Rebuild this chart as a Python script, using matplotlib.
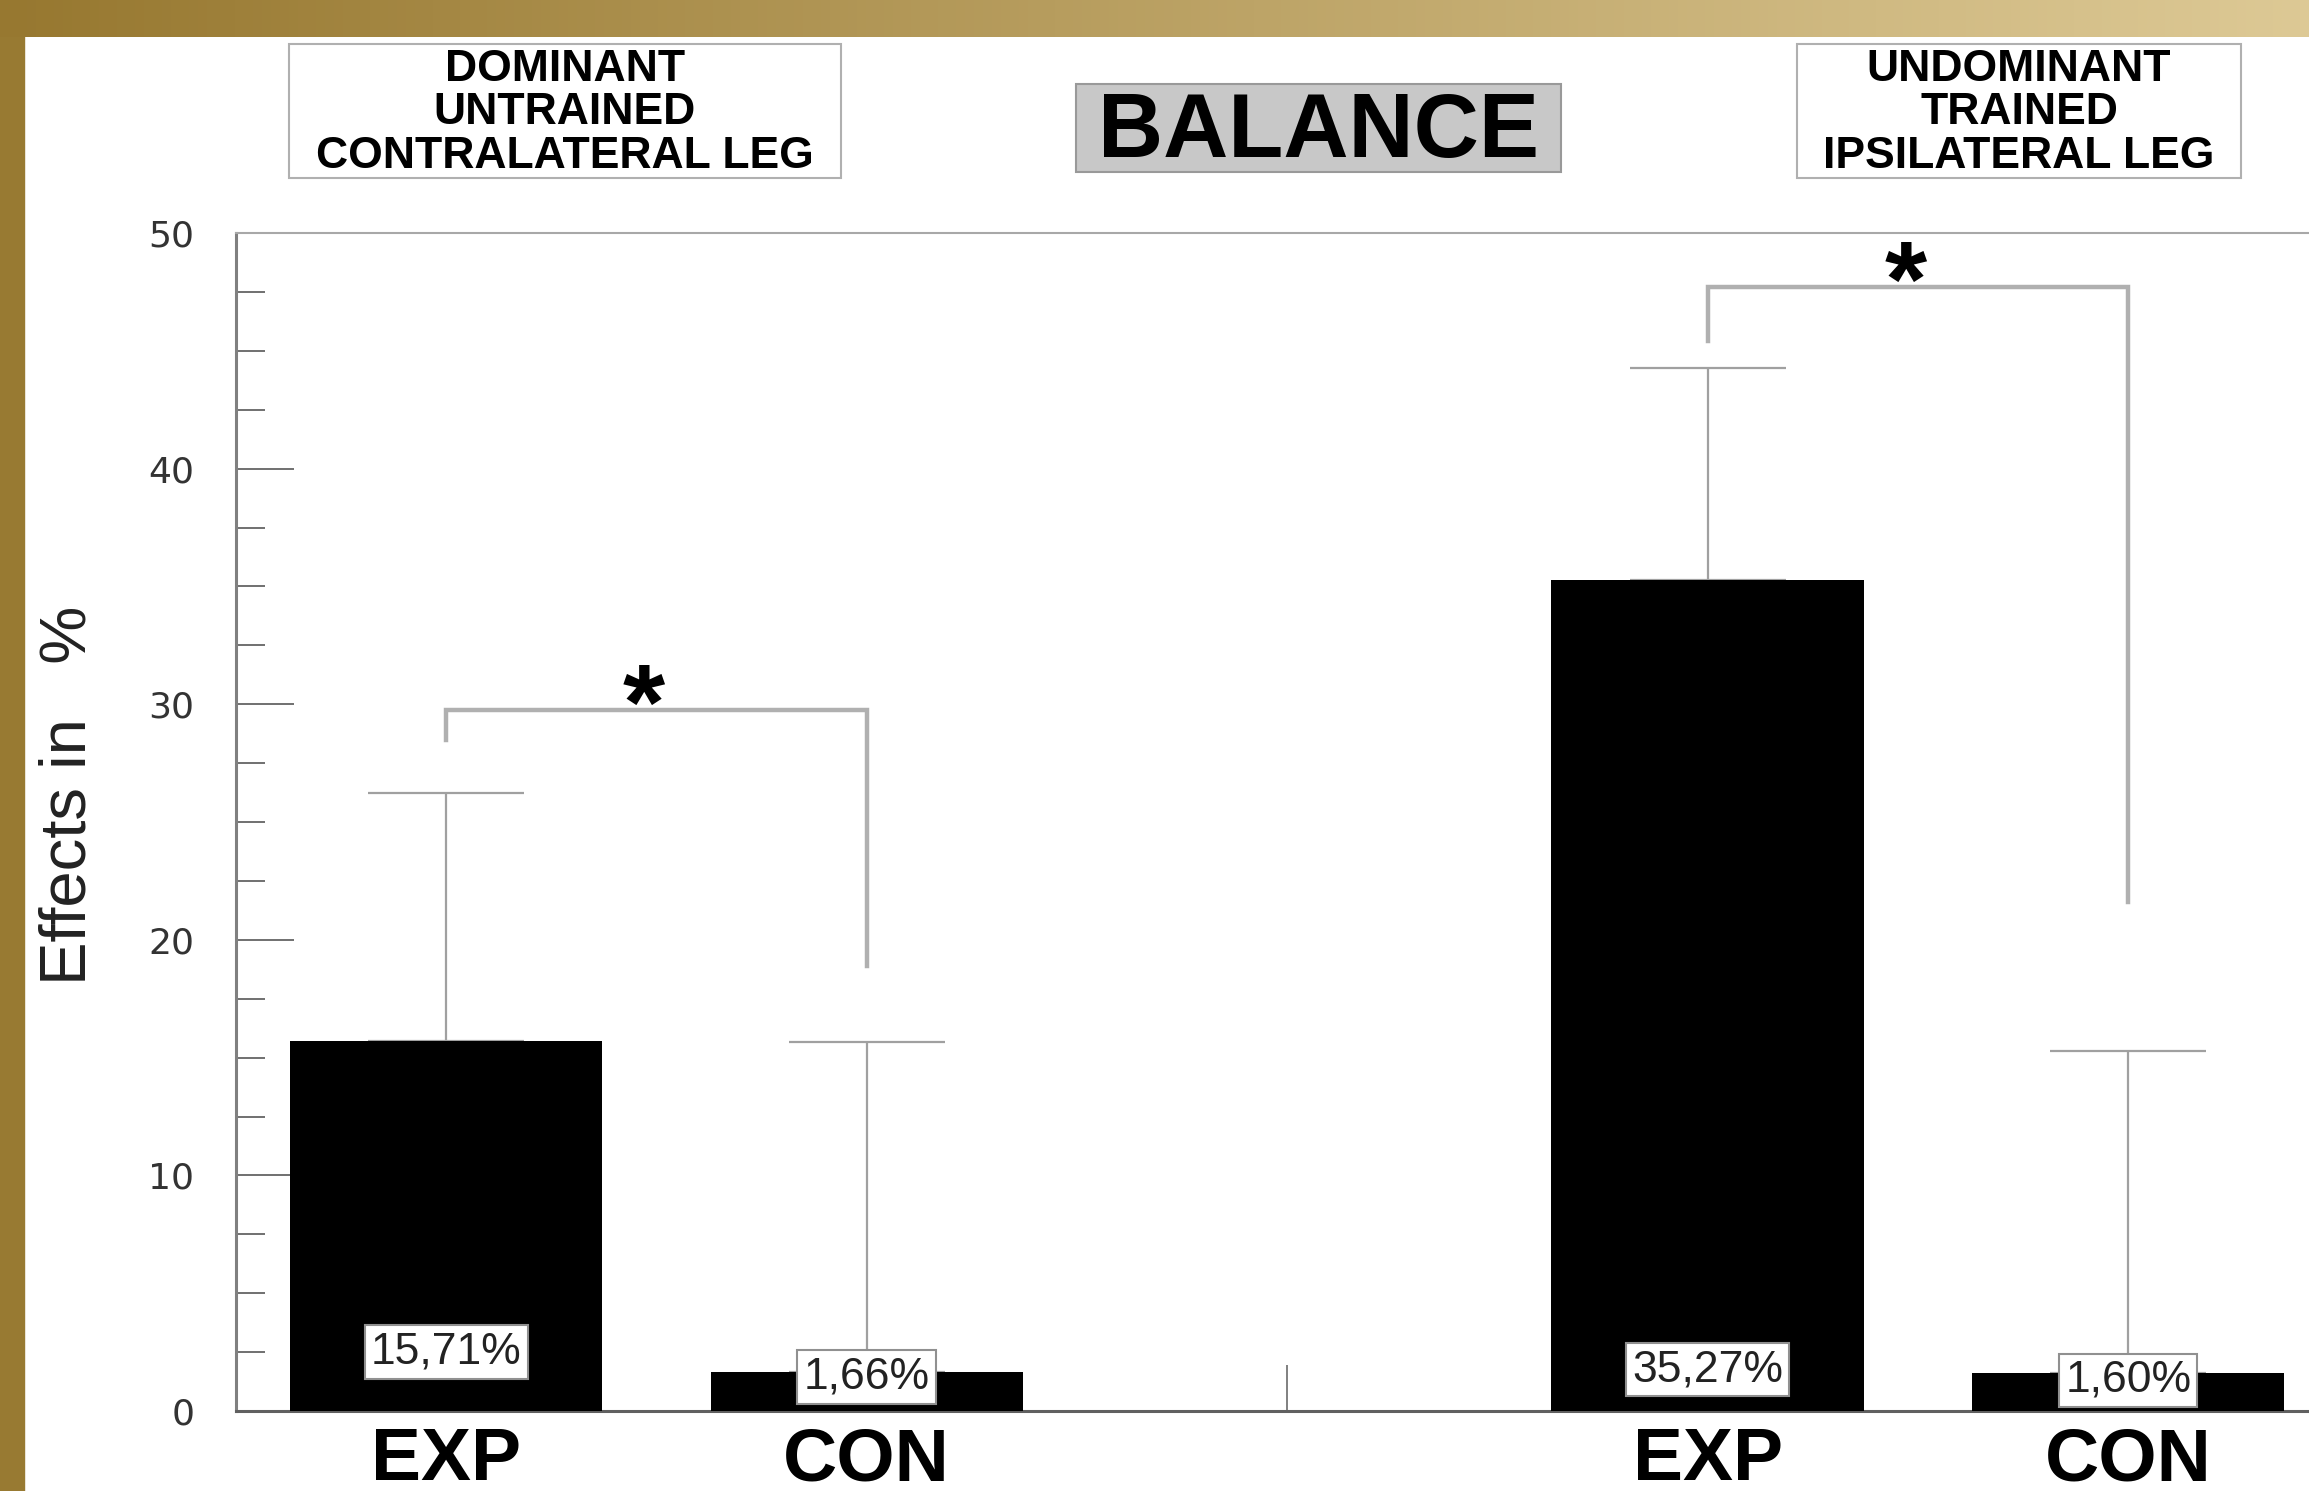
import numpy as np
import matplotlib
matplotlib.use('Agg')
import matplotlib.pyplot as plt
from matplotlib import font_manager
from matplotlib.patches import Rectangle

groups = ['EXP', 'CON', 'EXP', 'CON']
positions = [0, 1, 3, 4]
means = [15.71, 1.66, 35.27, 1.60]
upper_err = [10.5, 14.0, 9.0, 13.7]
value_labels = ['15,71%', '1,66%', '35,27%', '1,60%']
label_y = [2.5, 1.44, 1.75, 1.3]
# bracket: left x, right x, top, end of left leg, end of right leg
brackets = [(0, 1, 29.75, 28.5, 18.9), (3, 4, 47.7, 45.4, 21.6)]

W, H = 2309, 1491


def fx(px):
    return px / W


def fy(py):
    return 1 - py / H


plt.rcParams['font.family'] = 'Liberation Sans'
names = {f.name for f in font_manager.fontManager.ttflist}
narrow = 'Liberation Sans Narrow' if 'Liberation Sans Narrow' in names else 'Liberation Sans'

fig = plt.figure(figsize=(W / 100, H / 100), dpi=100)
fig.patch.set_facecolor('white')

# gold frame: gradient band on top, solid band on the left
band = fig.add_axes([0, fy(37), 1, 37 / H])
c0 = np.array([0x97, 0x78, 0x30]) / 255
c1 = np.array([0xdd, 0xc9, 0x95]) / 255
t = np.linspace(0, 1, 256)[:, None]
band.imshow((c0 + (c1 - c0) * t)[None, :, :], aspect='auto')
band.axis('off')
fig.add_artist(Rectangle((0, 0), fx(24), 1, transform=fig.transFigure,
                         color='#987a32', zorder=0))

ax = fig.add_axes([fx(236), fy(1411), 1 - fx(236), (1411 - 233) / H])
ax.bar(positions, means, width=0.743, color='black', zorder=3)
ax.errorbar(positions, means, yerr=[np.zeros(len(means)), upper_err], fmt='none',
            ecolor='#a0a0a0', elinewidth=1.6, capsize=56, capthick=1.6, zorder=2)

ax.set_xlim(-0.5, 4.43)
ax.set_ylim(0, 50)

ax.set_yticks(range(0, 51, 10))
ax.set_yticks(np.arange(0, 50.1, 2.5), minor=True)
ax.tick_params(axis='y', which='major', direction='in', length=42, width=1.4,
               color='#707070', pad=30, labelsize=26, labelcolor='#333333')
ax.tick_params(axis='y', which='minor', direction='in', length=21, width=1.4,
               color='#707070')
for lab in ax.get_yticklabels():
    lab.set_fontfamily('DejaVu Sans')

ax.set_xticks(positions + [2], groups + [''])
ax.tick_params(axis='x', direction='in', length=33, width=1.4, color='#808080',
               pad=11, labelsize=54)
for tick, p in zip(ax.xaxis.get_major_ticks(), ax.get_xticks()):
    if p != 2:
        tick.tick1line.set_visible(False)
for lab in ax.get_xticklabels():
    lab.set_fontweight('bold')

ax.spines['left'].set_color('#808080')
ax.spines['left'].set_linewidth(2.2)
ax.spines['bottom'].set_color('#606060')
ax.spines['bottom'].set_linewidth(2.2)
ax.spines['top'].set_color('#a8a8a8')
ax.spines['top'].set_linewidth(1.5)
ax.spines['right'].set_visible(False)

for x0, x1, top, l_end, r_end in brackets:
    ax.plot([x0, x0, x1, x1], [l_end, top, top, r_end], color='#b0b0b0',
            lw=3.2, solid_joinstyle='miter', zorder=2)
    ax.annotate('*', xy=((x0 + x1) / 2 - 0.03, top), xytext=(0, -21),
                textcoords='offset points', ha='center', va='baseline',
                fontsize=78, fontweight='bold', color='black')

for p, ly, lab in zip(positions, label_y, value_labels):
    ax.text(p, ly, lab, ha='center', va='center', fontsize=32, color='#222222',
            bbox=dict(boxstyle='square,pad=0.14', fc='white', ec='#909090', lw=1.5),
            zorder=5)

# header boxes
fig.add_artist(Rectangle((fx(289), fy(178)), (841 - 289) / W, (178 - 44) / H,
                         transform=fig.transFigure, fc='white', ec='#b0b0b0', lw=1.5))
fig.add_artist(Rectangle((fx(1797), fy(178)), (2241 - 1797) / W, (178 - 44) / H,
                         transform=fig.transFigure, fc='white', ec='#b0b0b0', lw=1.5))
fig.add_artist(Rectangle((fx(1076), fy(172)), (1561 - 1076) / W, (172 - 84) / H,
                         transform=fig.transFigure, fc='#c8c8c8', ec='#999999', lw=1.5))
fig.text(fx(565), fy(113), 'DOMINANT\nUNTRAINED\nCONTRALATERAL LEG', ha='center',
         va='center', fontsize=32, fontweight='bold', linespacing=1.08)
fig.text(fx(2019), fy(113), 'UNDOMINANT\nTRAINED\nIPSILATERAL LEG', ha='center',
         va='center', fontsize=32, fontweight='bold', linespacing=1.08)
fig.text(fx(1319), fy(134), 'BALANCE', ha='center', va='center', fontsize=65,
         fontweight='bold')

fig.text(fx(69), fy(795), 'Effects in   %', rotation=90, ha='center', va='center',
         fontsize=59 if narrow != 'Liberation Sans' else 47, family=narrow,
         color='#222222')

fig.savefig('out.png', dpi=100)
